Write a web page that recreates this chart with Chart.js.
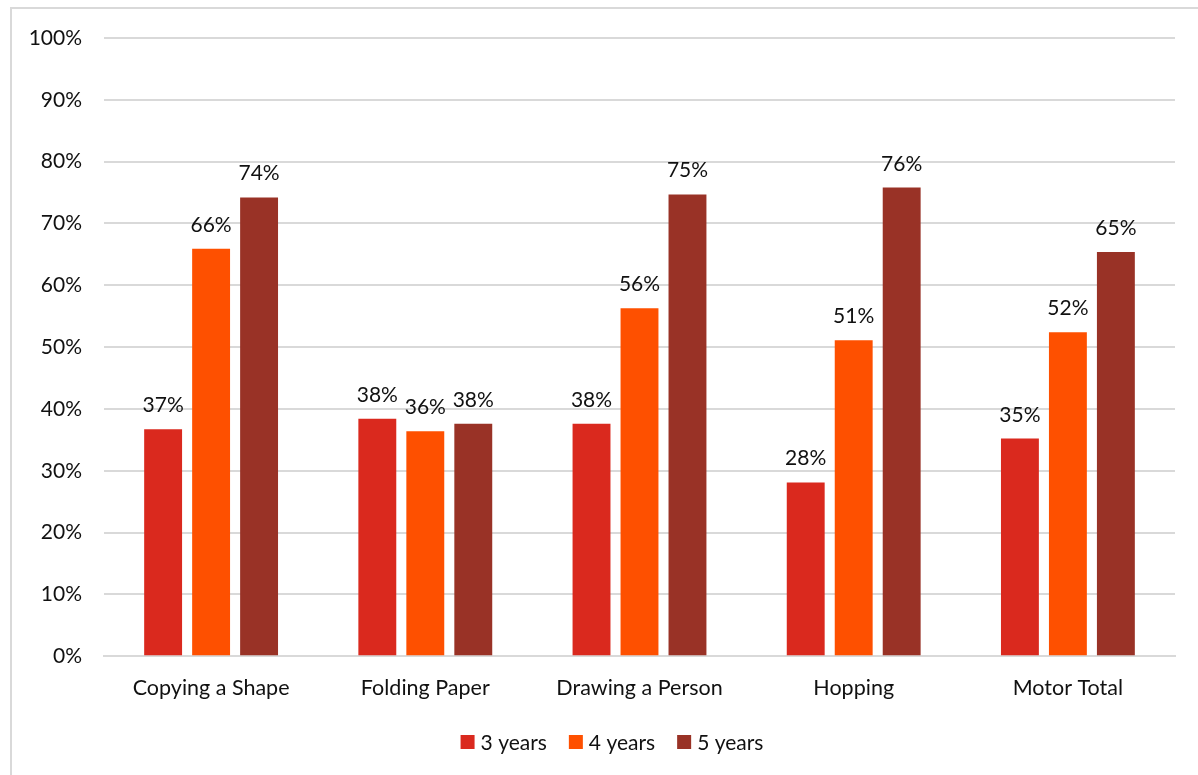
<!DOCTYPE html>
<html>
<head>
<meta charset="utf-8">
<script src="https://cdn.jsdelivr.net/npm/chart.js@4"></script>
<style>
  html, body { margin: 0; padding: 0; background: #fff; overflow: hidden; }
  #frame {
    position: absolute; left: 10px; top: 7px;
    width: 1200px; height: 800px;
    border: 2px solid #d9d9d9;
  }
  #wrap { position: absolute; left: 0; top: 0; width: 1198px; height: 775px; }
</style>
</head>
<body>
<div id="frame"></div>
<div id="wrap"><canvas id="motor-chart"></canvas></div>
<script>
const categories = ["Copying a Shape", "Folding Paper", "Drawing a Person", "Hopping", "Motor Total"];
const years3 = [36.7, 38.4, 37.6, 28.1, 35.2];
const years4 = [65.9, 36.4, 56.3, 51.1, 52.4];
const years5 = [74.2, 37.6, 74.7, 75.8, 65.4];
const yTicks = [0, 10, 20, 30, 40, 50, 60, 70, 80, 90, 100];

const FONT = "Lato, 'Open Sans', sans-serif";
const TEXT = "#111";

// value labels above every bar
const barLabels = {
  id: "barLabels",
  afterDatasetsDraw(chart) {
    const ctx = chart.ctx;
    ctx.save();
    ctx.font = "21px " + FONT;
    ctx.fillStyle = TEXT;
    ctx.textAlign = "center";
    ctx.textBaseline = "alphabetic";
    chart.data.datasets.forEach((ds, i) => {
      chart.getDatasetMeta(i).data.forEach((bar, j) => {
        ctx.fillText(Math.round(ds.data[j]) + "%", bar.x, bar.y - 17);
      });
    });
    ctx.restore();
  },
};

// legend row under the axis, with tighter box-to-text spacing than the built-in one
const bottomLegend = {
  id: "bottomLegend",
  afterDraw(chart) {
    const ctx = chart.ctx;
    const box = 14, gapText = 6, gapItem = 22;
    const y = 742;
    ctx.save();
    ctx.font = "21px " + FONT;
    ctx.textBaseline = "middle";
    ctx.textAlign = "left";
    const items = chart.data.datasets.map((ds) => ({
      label: ds.label,
      color: ds.backgroundColor,
      w: box + gapText + ctx.measureText(ds.label).width,
    }));
    const total = items.reduce((s, it) => s + it.w, 0) + gapItem * (items.length - 1);
    let x = chart.width / 2 + 13 - total / 2;
    items.forEach((it) => {
      ctx.fillStyle = it.color;
      ctx.fillRect(x, y - box / 2, box, box);
      ctx.fillStyle = TEXT;
      ctx.fillText(it.label, x + box + gapText, y + 1);
      x += it.w + gapItem;
    });
    ctx.restore();
  },
};

const ctx = document.getElementById("motor-chart").getContext("2d");
new Chart(ctx, {
  type: "bar",
  data: {
    labels: categories,
    datasets: [
      { label: "3 years", data: years3, backgroundColor: "#da291e" },
      { label: "4 years", data: years4, backgroundColor: "#fe5000" },
      { label: "5 years", data: years5, backgroundColor: "#993226" },
    ],
  },
  options: {
    responsive: true,
    maintainAspectRatio: false,
    animation: false,
    categoryPercentage: 0.672,
    barPercentage: 0.79,
    layout: { padding: { top: 38, right: 23, left: 0, bottom: 55 } },
    plugins: {
      legend: { display: false },
      tooltip: { enabled: false },
    },
    scales: {
      x: {
        grid: { display: false, drawTicks: false },
        border: { color: "#d9d9d9", width: 2 },
        ticks: { font: { family: FONT, size: 21.5 }, color: TEXT, padding: 19 },
      },
      y: {
        min: 0,
        max: 100,
        afterFit: (scale) => { scale.width = 104; },
        afterBuildTicks: (scale) => { scale.ticks = yTicks.map((v) => ({ value: v })); },
        grid: { color: "#d9d9d9", lineWidth: 2, drawTicks: false },
        border: { display: false },
        ticks: {
          font: { family: FONT, size: 21 },
          color: TEXT,
          padding: 22,
          callback: (v) => v + "%",
        },
      },
    },
  },
  plugins: [barLabels, bottomLegend],
});
</script>
</body>
</html>
